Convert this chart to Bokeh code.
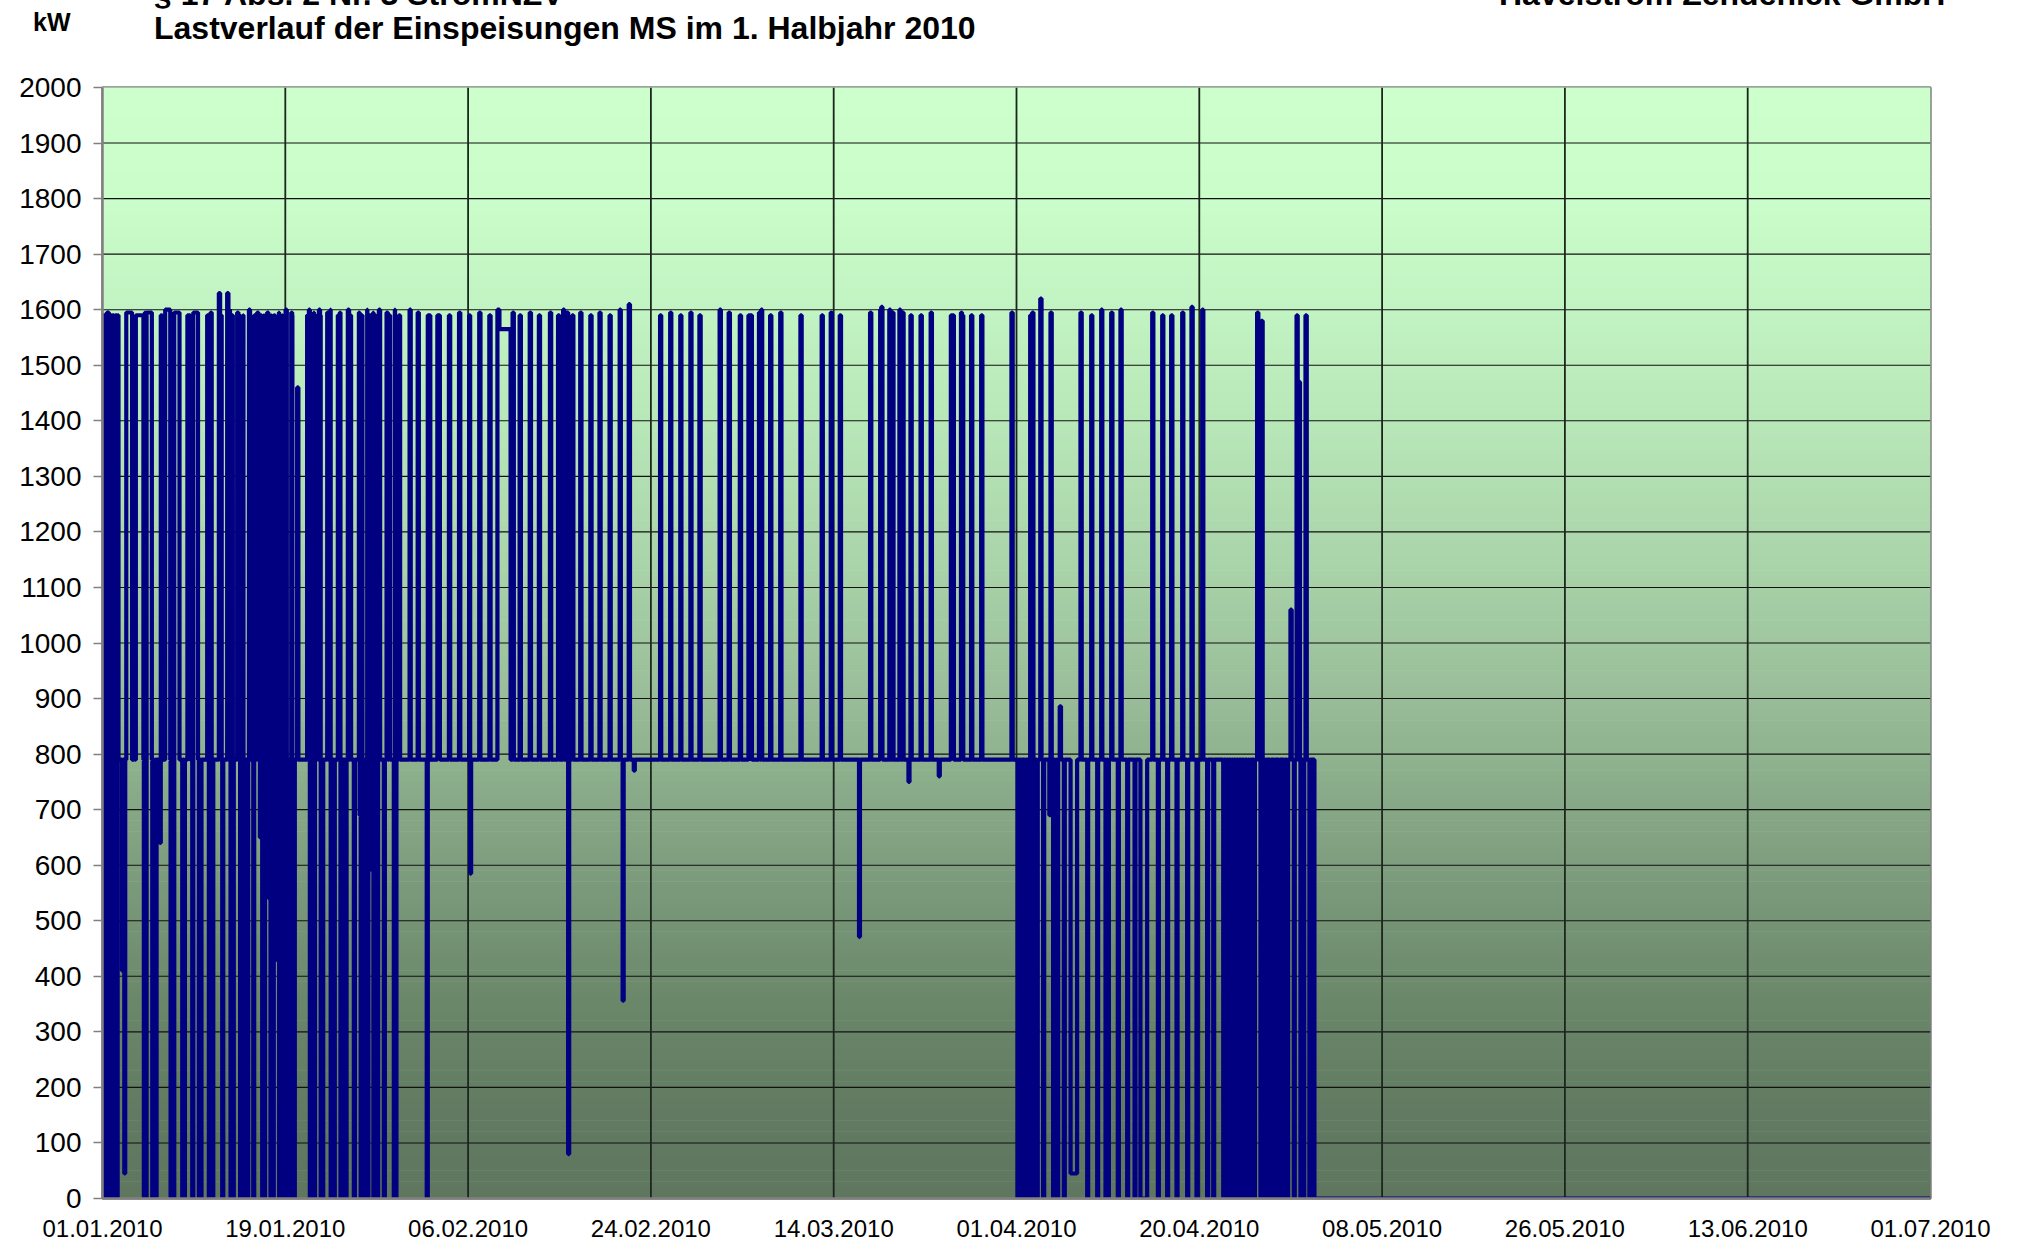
import numpy as np
from bokeh.plotting import figure
from bokeh.layouts import column
from bokeh.models import FixedTicker, Range1d, Div
from bokeh.embed import file_html
from bokeh.resources import INLINE

# ---------------- axes ----------------
x_tick_days = [0.0, 18.1, 36.2, 54.3, 72.4, 90.5, 108.6, 126.7, 144.8, 162.9, 181.0]
x_tick_labels = ["01.01.2010", "19.01.2010", "06.02.2010", "24.02.2010", "14.03.2010",
                 "01.04.2010", "20.04.2010", "08.05.2010", "26.05.2010", "13.06.2010",
                 "01.07.2010"]
y_ticks = list(range(0, 2001, 100))

header_line1 = "§ 17 Abs. 2 Nr. 3 StromNZV"
header_company = "Havelstrom Zehdenick GmbH"
chart_title = "Lastverlauf der Einspeisungen MS im 1. Halbjahr 2010"
unit_text = "kW"

# ---------------- data (kW, day offset from 01.01.2010) ----------------
period_end_day = 181.0
data_end_day = 120.0
base_kw = 790          # normal feed-in level

# longer full-load plateaus
top_start = [0.10, 0.40, 0.68, 1.22, 2.35, 3.30, 4.15, 5.72, 6.20, 6.78, 7.05, 8.40, 8.95,
             32.15, 33.15, 39.10, 39.30, 63.95, 84.00]
top_end = [0.30, 0.62, 1.12, 1.58, 2.92, 4.05, 4.88, 5.90, 6.70, 6.98, 7.62, 8.68, 9.45,
           32.45, 33.40, 39.30, 40.40, 64.30, 84.30]
top_kw = [1590, 1595, 1590, 1590, 1595, 1590, 1595, 1590, 1600, 1590, 1595, 1590, 1595,
          1590, 1590, 1600, 1565, 1590, 1590]

# short peaks
up_day = [3.10, 10.36, 10.69, 11.52, 11.68, 12.34, 12.50, 12.84, 13.33, 13.60, 13.92, 14.49,
          14.98, 15.31, 15.64, 15.97, 16.30, 16.63, 16.96, 17.46, 17.79, 18.12, 18.68, 18.78,
          19.27, 20.26, 20.43, 20.66, 20.92, 21.25, 21.42, 21.58, 22.24, 22.57, 23.30, 23.50,
          24.29, 24.49, 25.38, 25.61, 26.20, 26.47, 26.70, 26.93, 27.36, 28.12, 28.35, 28.84,
          29.34, 30.40, 31.20, 34.30, 35.30, 36.30, 37.30, 38.30, 40.60, 41.30, 42.30, 43.20,
          44.30, 45.10, 45.60, 46.00, 46.50, 47.30, 48.30, 49.20, 50.20, 51.20, 52.10, 55.20,
          56.20, 57.20, 58.20, 59.10, 61.10, 62.00, 63.10, 65.00, 65.20, 66.10, 67.10, 69.10,
          71.20, 72.10, 73.00, 76.00, 77.00, 77.10, 77.90, 78.20, 78.90, 79.20, 80.00, 81.00,
          82.00, 85.00, 85.10, 86.00, 87.00, 90.00, 91.85, 92.05, 92.85, 93.86, 94.78, 96.83,
          97.89, 98.88, 99.87, 100.79, 103.93, 104.92, 105.81, 106.90, 107.82, 108.88, 114.32,
          114.75, 117.62, 118.22, 118.45, 119.11]
up_kw = [1080, 1590, 1595, 1630, 1590, 1630, 1600, 1590, 1595, 1590, 1590, 1600,
         1590, 1595, 1590, 1590, 1595, 1590, 1590, 1595, 1590, 1600, 1595, 1590,
         1460, 1590, 1600, 1590, 1595, 1590, 1600, 1590, 1595, 1600, 1590, 1595,
         1600, 1590, 1595, 1590, 1600, 1590, 1595, 1590, 1600, 1595, 1590, 1600,
         1590, 1600, 1595, 1590, 1595, 1590, 1595, 1590, 1595, 1590, 1595, 1590,
         1595, 1590, 1600, 1595, 1590, 1595, 1590, 1595, 1590, 1600, 1610, 1590,
         1595, 1590, 1595, 1590, 1600, 1595, 1590, 1595, 1600, 1590, 1595, 1590,
         1590, 1595, 1590, 1595, 1600, 1605, 1600, 1595, 1600, 1595, 1590, 1590,
         1595, 1595, 1590, 1590, 1590, 1595, 1590, 1595, 1620, 1595, 886, 1595,
         1590, 1600, 1595, 1600, 1595, 1590, 1590, 1595, 1605, 1600, 1595,
         1580, 1060, 1590, 1470, 1590]

# short drops
down_day = [0.00, 0.33, 0.64, 0.88, 1.16, 1.40, 1.92, 2.15, 4.09, 4.26, 4.92, 5.08, 5.25,
            5.67, 6.73, 7.00, 7.89, 8.05, 8.88, 9.54, 9.70, 10.53, 10.86, 11.85, 12.67, 12.90,
            13.62, 13.95, 14.32, 14.92, 15.58, 15.81, 15.99, 16.47, 16.63, 16.75, 16.85, 17.13,
            17.48, 17.81, 18.02, 18.28, 18.45, 18.80, 18.94, 20.53, 20.76, 20.94, 21.60, 21.75,
            22.59, 22.90, 23.56, 24.06, 24.88, 25.45, 25.56, 25.87, 26.22, 26.70, 26.82, 27.19,
            27.85, 28.84, 29.00, 32.10, 36.40, 46.10, 51.50, 52.60, 74.90, 79.80, 82.80,
            90.60, 90.90, 91.30, 91.70, 92.20, 92.50, 93.13, 93.75, 94.12, 94.35, 94.52, 95.18,
            97.49, 98.48, 99.31, 99.54, 100.53, 101.45, 102.18, 104.49, 105.41, 106.34, 107.39,
            108.32, 109.37, 109.97, 110.96, 111.20, 111.45, 111.70, 111.95, 112.20, 112.45,
            112.70, 113.00, 113.30, 113.50, 113.66, 114.00, 114.65, 115.15, 115.58, 115.97,
            116.47, 116.96, 117.29, 117.95, 118.61, 118.88, 119.50]
down_kw = [0, 0, 0, 0, 0, 0, 410, 45, 0, 0, 0, 0, 0,
           640, 0, 0, 0, 0, 0, 0, 0, 0, 0, 0, 0, 0,
           0, 0, 0, 0, 650, 0, 0, 540, 0, 125, 0, 430,
           0, 0, 0, 0, 550, 0, 0, 0, 0, 0, 0, 0,
           0, 0, 0, 0, 0, 690, 0, 0, 0, 590, 0, 0,
           0, 0, 0, 0, 585, 80, 356, 770, 471, 750, 760,
           0, 0, 0, 0, 0, 0, 0, 690, 0, 0, 0, 0,
           0, 0, 0, 0, 0, 0, 0, 0, 0, 0, 0,
           0, 0, 0, 0, 0, 0, 0, 0, 0, 0,
           0, 0, 0, 0, 0, 0, 0, 0, 0, 0,
           0, 0, 0, 0, 0, 0, 0]

# longer low periods
low_start = [95.85, 102.77]
low_end = [96.50, 103.43]
low_kw = [45, 0]

# ---------------- build step series from the events ----------------
slot = 1.0 / 96.0
t = np.arange(int(round(period_end_day / slot)) + 1) * slot
v = np.where(t < data_end_day, float(base_kw), 0.0)


def setv(a, b, k):
    v[(t >= a - 1e-9) & (t < b)] = k


for a, b, k in zip(top_start, top_end, top_kw):
    setv(a, b, k)
for d, k in zip(up_day, up_kw):
    setv(d, d + 0.12, k)
for d, k in zip(down_day, down_kw):
    setv(d, d + 0.10, k)
for a, b, k in zip(low_start, low_end, low_kw):
    setv(a, b, k)
keep = np.r_[True, v[1:] != v[:-1]]
keep[-1] = True
xs, ys = t[keep], v[keep]

# ---------------- layout ----------------
W = 2014
HEADER_H = 62
MAIN_H = 1184
FRAME_LEFT, FRAME_RIGHT_BORDER, FRAME_TOP, FRAME_BOTTOM_BORDER = 102, 84, 25, 48


def span(text, left, baseline, size, bold=True):
    top = baseline - 0.8465 * size
    return ('<span style="position:absolute;left:%dpx;top:%.1fpx;font-size:%dpx;'
            'line-height:%dpx;font-weight:%s;white-space:nowrap;">%s</span>'
            % (left, top, size, size, "bold" if bold else "normal", text))


header_html = (
    '<div style="position:relative;width:%dpx;height:%dpx;overflow:hidden;'
    'font-family:\'Liberation Sans\',Arial,sans-serif;color:black;">' % (W, HEADER_H)
    + span(header_line1, 154, 5, 32)
    + span(header_company, 1499, 5, 32)
    + span(chart_title, 154, 39.5, 32)
    + span(unit_text, 33, 31, 25)
    + '</div>')
hdr = Div(text=header_html, width=W, height=HEADER_H, margin=(0, 0, 0, 0))

p = figure(width=W, height=MAIN_H, output_backend="svg", toolbar_location=None, title=None,
           x_range=Range1d(0, period_end_day), y_range=Range1d(0, 2000),
           min_border_left=FRAME_LEFT, min_border_right=FRAME_RIGHT_BORDER,
           min_border_top=FRAME_TOP, min_border_bottom=FRAME_BOTTOM_BORDER)
p.xgrid.visible = False
p.ygrid.visible = False
p.background_fill_color = "#cfffcf"
p.border_fill_color = "white"
p.outline_line_color = "#808080"
p.outline_line_width = 2.5

# gradient background as thin bands
anc_kw = [0, 150, 350, 550, 750, 950, 1150, 1400, 1600, 1800, 2000]
anc_rgb = np.array([(95, 119, 95), (97, 122, 97), (106, 135, 106), (122, 152, 122),
                    (139, 173, 139), (156, 194, 156), (170, 212, 170), (184, 231, 184),
                    (194, 243, 194), (202, 253, 202), (204, 255, 204)], dtype=float)
edges = np.arange(0, 2000, 10)
cols = []
for e in edges:
    c = [int(round(np.interp(e + 5, anc_kw, anc_rgb[:, i]))) for i in range(3)]
    cols.append("#%02x%02x%02x" % tuple(c))
p.quad(left=0, right=period_end_day, bottom=edges, top=edges + 11, fill_color=cols,
       line_color=None)

# grid lines
hy = y_ticks[1:-1]
p.segment(x0=[0] * len(hy), x1=[period_end_day] * len(hy), y0=hy, y1=hy,
          line_color="#111111", line_width=1.1)
vx = x_tick_days[1:-1]
p.segment(x0=vx, x1=vx, y0=[0] * len(vx), y1=[2000] * len(vx),
          line_color="#1c261c", line_width=1.8)

# data line
p.step(xs, ys, mode="after", line_color="#000080", line_width=4.2)

# axes
p.xaxis.ticker = FixedTicker(ticks=x_tick_days)
p.xaxis.major_label_overrides = {d: s for d, s in zip(x_tick_days, x_tick_labels)}
p.xaxis.major_tick_out = 0
p.xaxis.major_tick_in = 0
p.xaxis.minor_tick_line_color = None
p.xaxis.axis_line_color = "#808080"
p.xaxis.axis_line_width = 2.5
p.xaxis.major_label_text_font = "Liberation Sans"
p.xaxis.major_label_text_font_size = "24px"
p.xaxis.major_label_text_color = "black"
p.xaxis.major_label_standoff = 21

p.yaxis.ticker = FixedTicker(ticks=y_ticks)
p.yaxis.major_tick_out = 9
p.yaxis.major_tick_in = 0
p.yaxis.major_tick_line_color = "#808080"
p.yaxis.major_tick_line_width = 1.5
p.yaxis.minor_tick_line_color = None
p.yaxis.axis_line_color = "#808080"
p.yaxis.axis_line_width = 2.5
p.yaxis.major_label_text_font = "Liberation Sans"
p.yaxis.major_label_text_font_size = "28px"
p.yaxis.major_label_text_color = "black"
p.yaxis.major_label_standoff = 12

layout = column(hdr, p, spacing=0)
open("out.html", "w").write(file_html(layout, INLINE))
